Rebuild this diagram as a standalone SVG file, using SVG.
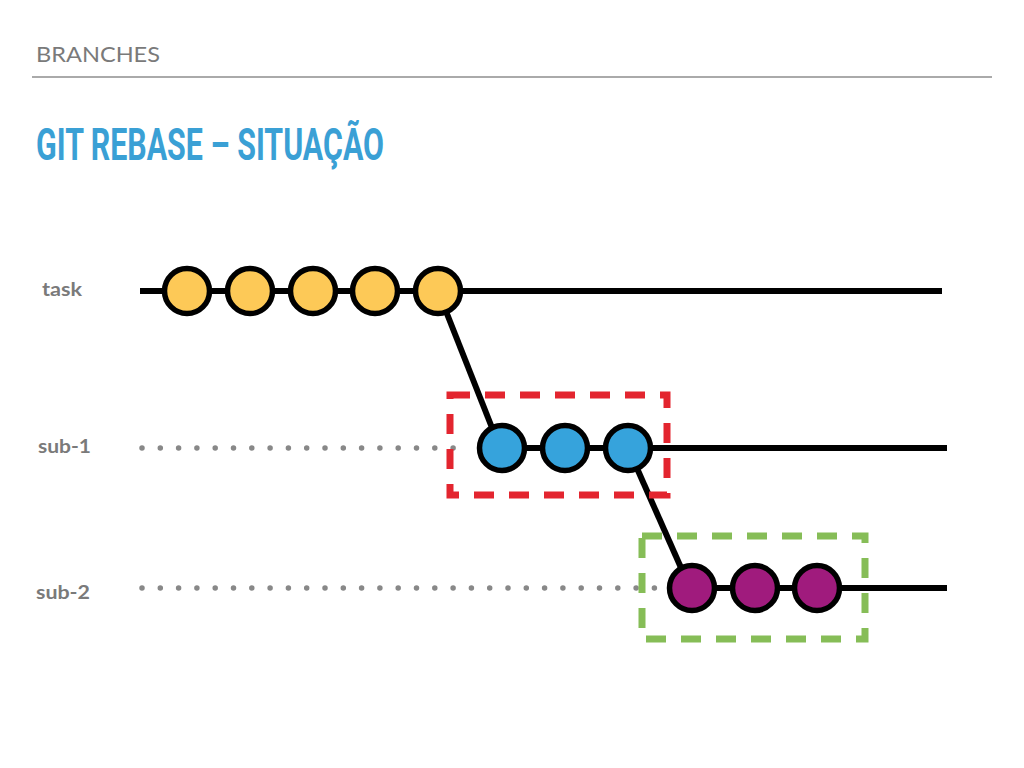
<svg xmlns="http://www.w3.org/2000/svg" width="1024" height="768" viewBox="0 0 1024 768">
<style>
.lbl{font-family:"Lato","Open Sans",sans-serif;font-weight:bold;fill:#7a7a7a;font-size:19px}
.line{stroke:#000;stroke-width:6;fill:none}
.dots{stroke:#888;stroke-width:5.5;stroke-linecap:round;stroke-dasharray:0 18.3;fill:none}
.c{stroke:#000;stroke-width:5.5}
.y{fill:#fdc957}.b{fill:#36a3dc}.p{fill:#a01b7d}
</style>
<rect width="1024" height="768" fill="#fff"/>
<text x="36" y="62" font-family="Lato,'Open Sans',sans-serif" font-size="22" fill="#7a7a7a" textLength="124" lengthAdjust="spacingAndGlyphs">BRANCHES</text>
<line x1="32" y1="77" x2="992" y2="77" stroke="#aaa" stroke-width="2"/>
<text x="36" y="160" font-family="Roboto,'Open Sans',sans-serif" font-weight="bold" font-size="45" fill="#3aa0d5" textLength="348" lengthAdjust="spacingAndGlyphs">GIT REBASE – SITUAÇÃO</text>
<g id="labels">
<text class="lbl" x="42" y="296" textLength="40" lengthAdjust="spacingAndGlyphs">task</text>
<text class="lbl" x="38" y="453" textLength="53" lengthAdjust="spacingAndGlyphs">sub-1</text>
<text class="lbl" x="36" y="599" textLength="54" lengthAdjust="spacingAndGlyphs">sub-2</text>
</g>
<g id="connectors">
<line class="line" x1="140" y1="291" x2="942" y2="291"/>
<line class="line" x1="438" y1="291" x2="500" y2="448"/>
<line class="line" x1="500" y1="448" x2="947" y2="448"/>
<line class="line" x1="628" y1="448" x2="690" y2="588"/>
<line class="line" x1="690" y1="588" x2="947" y2="588"/>
<line class="dots" x1="142" y1="448" x2="470" y2="448"/>
<line class="dots" x1="142" y1="588" x2="665" y2="588"/>
</g>
<g id="task">
<circle class="c y" cx="187" cy="291" r="22.5"/>
<circle class="c y" cx="250" cy="291" r="22.5"/>
<circle class="c y" cx="313" cy="291" r="22.5"/>
<circle class="c y" cx="375" cy="291" r="22.5"/>
<circle class="c y" cx="438" cy="291" r="22.5"/>
</g>
<g id="sub-1">
<circle class="c b" cx="502" cy="448" r="22.5"/>
<circle class="c b" cx="565" cy="448" r="22.5"/>
<circle class="c b" cx="628" cy="448" r="22.5"/>
</g>
<g id="sub-2">
<circle class="c p" cx="692" cy="588" r="22.5"/>
<circle class="c p" cx="755" cy="588" r="22.5"/>
<circle class="c p" cx="817" cy="588" r="22.5"/>
</g>
<g id="red-box">
<rect x="450" y="395" width="217" height="100" fill="none" stroke="#e3252f" stroke-width="7" stroke-dasharray="20 15"/>
</g>
<g id="green-box">
<rect x="642" y="536" width="223" height="103" fill="none" stroke="#86bd57" stroke-width="7" stroke-dasharray="20 15"/>
</g>
</svg>
